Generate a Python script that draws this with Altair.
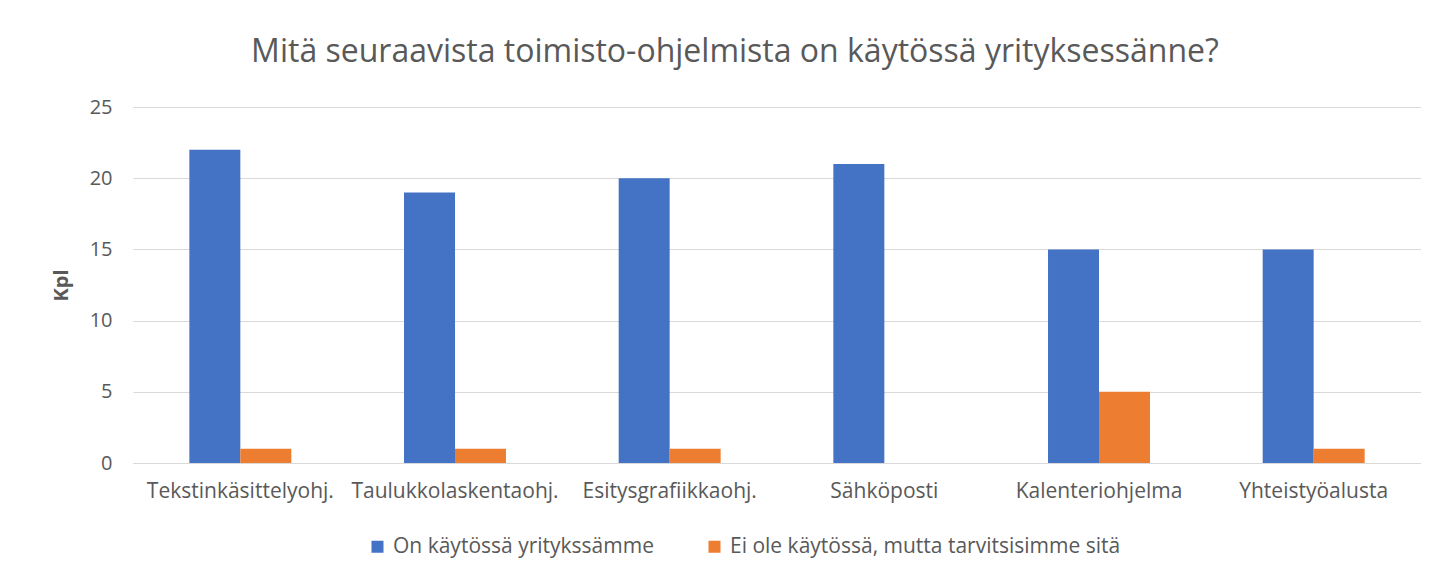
import altair as alt
import pandas as pd

categories = ["Tekstinkäsittelyohj.", "Taulukkolaskentaohj.", "Esitysgrafiikkaohj.",
              "Sähköposti", "Kalenteriohjelma", "Yhteistyöalusta"]
series_names = ["On käytössä yritykssämme", "Ei ole käytössä, mutta tarvitsisimme sitä"]
in_use = [22, 19, 20, 21, 15, 15]
needed = [1, 1, 1, 0, 5, 1]

rows = []
for c, a, b in zip(categories, in_use, needed):
    rows.append({"cat": c, "series": series_names[0], "value": a})
    rows.append({"cat": c, "series": series_names[1], "value": b})
df = pd.DataFrame(rows)

FONT = "Open Sans"
GREY = "#595959"

chart = alt.Chart(df).mark_bar().encode(
    x=alt.X("cat:N", sort=categories, title=None,
            scale=alt.Scale(paddingInner=0.525, paddingOuter=0.2625),
            axis=alt.Axis(labelAngle=0, labelFontSize=21, labelColor=GREY, labelFont=FONT,
                          ticks=False, domainColor="#D9D9D9", labelPadding=17, labelLimit=0)),
    xOffset=alt.XOffset("series:N", sort=series_names, scale=alt.Scale(paddingInner=0, paddingOuter=0)),
    y=alt.Y("value:Q", title="Kpl",
            scale=alt.Scale(domain=[0, 25]),
            axis=alt.Axis(values=[0, 5, 10, 15, 20, 25], labelFontSize=20, labelColor=GREY,
                          labelFont=FONT, ticks=False, domain=False, gridColor="#D9D9D9",
                          labelPadding=21, titleFontSize=20, titleColor=GREY, titleFont=FONT,
                          titleFontWeight="bold", titlePadding=18)),
    color=alt.Color("series:N", sort=series_names,
                    scale=alt.Scale(domain=series_names, range=["#4472C4", "#ED7D31"]),
                    legend=alt.Legend(title=None, orient="none", direction="horizontal",
                                      legendX=234, legendY=429, padding=0, labelLimit=0,
                                      symbolType="square", symbolSize=144, labelFontSize=21,
                                      labelColor=GREY, labelFont=FONT, columnPadding=50,
                                      labelOffset=5, symbolStrokeWidth=0)),
).properties(
    width=1288,
    height=356,
    title=alt.TitleParams("Mitä seuraavista toimisto-ohjelmista on käytössä yrityksessänne?",
                          fontSize=32, font=FONT, color=GREY, fontWeight="normal",
                          anchor="middle", offset=28, dx=-42),
    padding={"left": 125, "top": 99, "right": 0, "bottom": 109},
    autosize=alt.AutoSizeParams(type="none"),
).configure_view(stroke=None)

chart.save("out.html", embed_options={"renderer": "svg", "actions": False})
